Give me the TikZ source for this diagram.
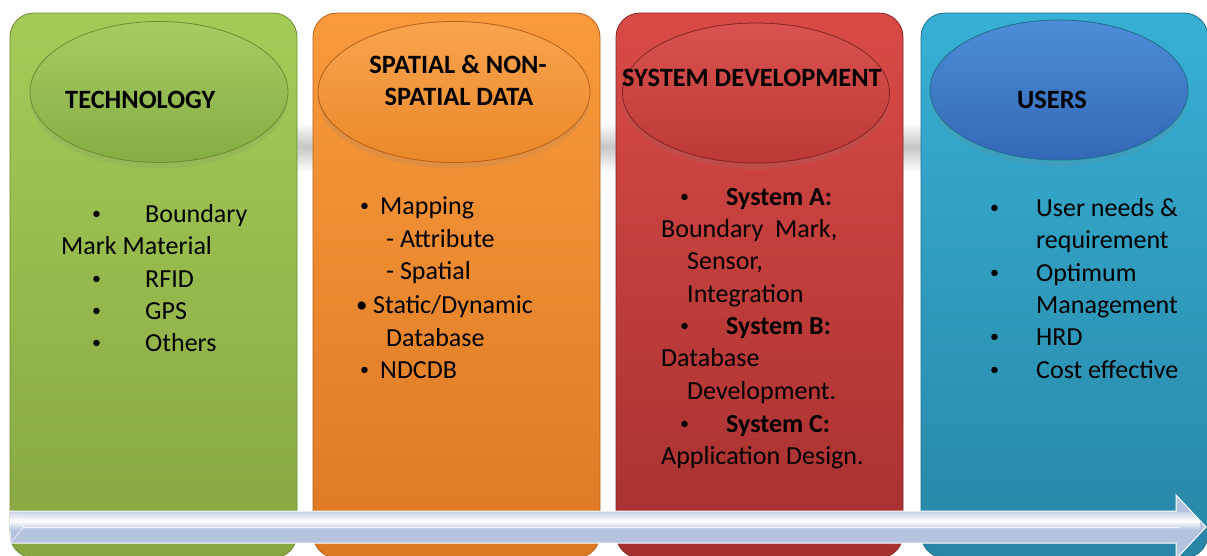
\documentclass[tikz,border=0pt]{standalone}
\usepackage{fontspec}
\setmainfont{Carlito}
\usetikzlibrary{shapes.geometric,shadows}
\definecolor{gTop}{HTML}{A4CB58}
\definecolor{gBot}{HTML}{88A641}
\definecolor{gEdge}{HTML}{6F8A32}
\definecolor{oTop}{HTML}{F99A3C}
\definecolor{oBot}{HTML}{DC7822}
\definecolor{oEdge}{HTML}{B5601A}
\definecolor{rTop}{HTML}{D94A46}
\definecolor{rBot}{HTML}{A53030}
\definecolor{rEdge}{HTML}{842424}
\definecolor{bTop}{HTML}{37B0D4}
\definecolor{bBot}{HTML}{2886A6}
\definecolor{bEdge}{HTML}{1F6E8A}
\definecolor{geTop}{HTML}{A6CC62}
\definecolor{geBot}{HTML}{86AC44}
\definecolor{oeTop}{HTML}{F9A44E}
\definecolor{oeBot}{HTML}{EA8829}
\definecolor{reTop}{HTML}{D9524F}
\definecolor{reBot}{HTML}{BC3936}
\definecolor{beTop}{HTML}{4C8DD8}
\definecolor{beBot}{HTML}{3468B6}
\definecolor{arrowFill}{HTML}{B5C3DE}
\tikzset{
  colbox/.style={rounded corners=24pt, line width=0.8pt},
  topoval/.style={ellipse, inner sep=0pt, line width=0.8pt,
    drop shadow={opacity=0.15, shadow xshift=0pt, shadow yshift=-6pt}},
  body/.style={inner sep=0pt, anchor=base west, font=\fontsize{26}{32}\selectfont},
  head/.style={inner sep=0pt, anchor=base west, font=\fontsize{26.4}{32}\selectfont\bfseries},
  bodyb/.style={body, font=\fontsize{26}{32}\selectfont\bfseries},
  dot/.style={inner sep=0pt, anchor=base west, yshift=2.6pt, font=\fontsize{18}{20}\selectfont},
  bigdot/.style={inner sep=0pt, anchor=base west, yshift=1pt, font=\fontsize{23}{26}\selectfont}
}
\begin{document}
\begin{tikzpicture}[x=1pt,y=-1pt]
\useasboundingbox (0,0) rectangle (1207,555);
\clip (0,0) rectangle (1207,555);
\fill[white] (0,0) rectangle (1207,555);
% shadow band between columns
\shade[top color=white, bottom color=white, middle color=black!22] (290,122) rectangle (925,172);
% columns
\shade[colbox, top color=gTop, bottom color=gBot, draw=gEdge] (10,13) rectangle (297,558);
\shade[colbox, top color=oTop, bottom color=oBot, draw=oEdge] (313,13) rectangle (600,558);
\shade[colbox, top color=rTop, bottom color=rBot, draw=rEdge] (616,13) rectangle (903,558);
\shade[colbox, top color=bTop, bottom color=bBot, draw=bEdge] (921,13) rectangle (1208,558);
% ovals
\node[topoval, minimum width=258pt, minimum height=141pt, top color=geTop, bottom color=geBot, draw=gEdge] (eg) at (159,92) {};
\node[topoval, minimum width=272pt, minimum height=141pt, top color=oeTop, bottom color=oeBot, draw=oEdge] (eo) at (454,92) {};
\node[topoval, minimum width=267pt, minimum height=140pt, top color=reTop, bottom color=reBot, draw=rEdge] (er) at (756,93) {};
\node[topoval, minimum width=258pt, minimum height=140pt, top color=beTop, bottom color=beBot, draw=bEdge] (eb) at (1059,90) {};
% headings
\node[head] (hg) at (65,108) {TECHNOLOGY};
\node[head, anchor=base] (ho1) at (458,73) {SPATIAL \& NON-};
\node[head, anchor=base] (ho2) at (459,105) {SPATIAL DATA};
\node[head] (hr) at (622,86) {SYSTEM DEVELOPMENT};
\node[head] (hb) at (1017,108) {USERS};
% green column
\node[dot] (gb1) at (92,222) {•};
\node[body] (gt1) at (145,222) {Boundary};
\node[body] (gt1b) at (61,254) {Mark Material};
\node[dot] (gb2) at (92,287) {•};
\node[body] (gt2) at (145,287) {RFID};
\node[dot] (gb3) at (92,319) {•};
\node[body] (gt3) at (145,319) {GPS};
\node[dot] (gb4) at (92,351) {•};
\node[body] (gt4) at (145,351) {Others};
% orange column
\node[dot] (ob1) at (360,214) {•};
\node[body] (ot1) at (380,214) {Mapping};
\node[body] (ot1a) at (386,247) {- Attribute};
\node[body] (ot1b) at (386,279) {- Spatial};
\node[bigdot] (ob2) at (356,313) {•};
\node[body] (ot2) at (373,313) {Static/Dynamic};
\node[body] (ot2b) at (386,346) {Database};
\node[dot] (ob3) at (360,378) {•};
\node[body] (ot3) at (380,378) {NDCDB};
% red column
\node[dot] (rb1) at (680,205) {•};
\node[bodyb] (rt1) at (726,205) {System A:};
\node[body] (rt1a) at (661,237) {Boundary\ \ Mark,};
\node[body] (rt1b) at (687,269) {Sensor,};
\node[body] (rt1c) at (687,302) {Integration};
\node[dot] (rb2) at (680,334) {•};
\node[bodyb] (rt2) at (726,334) {System B:};
\node[body] (rt2a) at (661,366) {Database};
\node[body] (rt2b) at (687,399) {Development.};
\node[dot] (rb3) at (680,432) {•};
\node[bodyb] (rt3) at (726,432) {System C:};
\node[body] (rt3a) at (661,464) {Application Design.};
% blue column
\node[dot] (bb1) at (990,216) {•};
\node[body] (bt1) at (1036,216) {User needs \&};
\node[body] (bt1b) at (1036,248) {requirement};
\node[dot] (bb2) at (990,281) {•};
\node[body] (bt2) at (1036,281) {Optimum};
\node[body] (bt2b) at (1036,313) {Management};
\node[dot] (bb3) at (990,345) {•};
\node[body] (bt3) at (1036,345) {HRD};
\node[dot] (bb4) at (990,378) {•};
\node[body] (bt4) at (1036,378) {Cost effective};
% arrow
\coordinate (aL) at (10,527);
\coordinate (aTip) at (1206,527);
\path[fill=arrowFill, draw=white, line width=1pt]
  (10,511) -- (1176,511) -- (1176,495) -- (aTip) -- (1176,559) -- (1176,543) -- (10,543) -- cycle;
\begin{scope}
  \clip (10,511) -- (1176,511) -- (1176,495) -- (aTip) -- (1176,559) -- (1176,543) -- (10,543) -- cycle;
  \shade[top color=arrowFill!70!white, bottom color=arrowFill, middle color=white] (10,512) rectangle (1200,530);
\end{scope}
\draw[white!85!arrowFill, line width=0.6pt] (12,513) -- (24,527) -- (12,541);
\draw[white!85!arrowFill, line width=0.6pt] (24,527) -- (1180,527);
\end{tikzpicture}
\end{document}
